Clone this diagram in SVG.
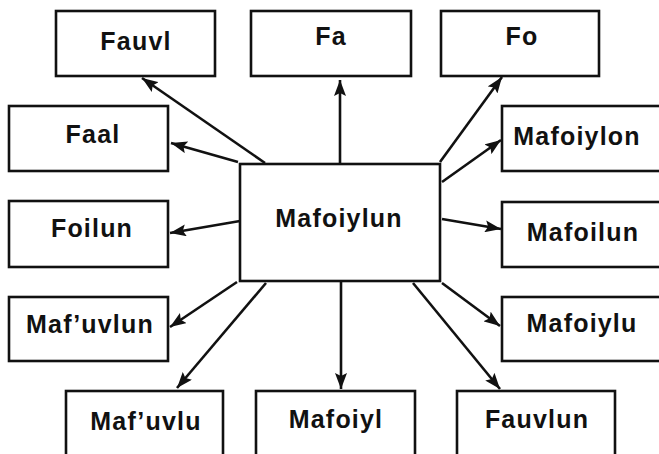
<svg xmlns="http://www.w3.org/2000/svg" width="659" height="454" viewBox="0 0 659 454">
<style>
.box{fill:#fff;stroke:#111;stroke-width:2.6}
.lbl{font-family:"Liberation Sans",Arial,sans-serif;font-weight:bold;font-size:25px;letter-spacing:1.2px;fill:#111;text-anchor:middle}
.edge{stroke:#111;stroke-width:2.6;fill:none;marker-end:url(#ah)}
</style>
<defs>
<marker id="ah" markerUnits="userSpaceOnUse" markerWidth="17" markerHeight="12" refX="16" refY="6" orient="auto">
<path d="M0,0 L16,6 L0,12 L3,6 z" fill="#111"/>
</marker>
</defs>
<rect width="659" height="454" fill="#fff"/>
<g id="connectors">
<line class="edge" x1="265" y1="163" x2="142" y2="78"/>
<line class="edge" x1="340" y1="164" x2="340" y2="80"/>
<line class="edge" x1="440" y1="162" x2="502" y2="77"/>
<line class="edge" x1="238" y1="162" x2="171" y2="143"/>
<line class="edge" x1="442" y1="182" x2="501" y2="140"/>
<line class="edge" x1="240" y1="221" x2="170" y2="233"/>
<line class="edge" x1="442" y1="219" x2="501" y2="229"/>
<line class="edge" x1="237" y1="282" x2="170" y2="327"/>
<line class="edge" x1="442" y1="283" x2="500" y2="326"/>
<line class="edge" x1="266" y1="283" x2="177" y2="388"/>
<line class="edge" x1="341" y1="281" x2="341" y2="389"/>
<line class="edge" x1="413" y1="283" x2="500" y2="389"/>
</g>
<g id="center"><rect class="box" x="240" y="164" width="200" height="117"/><text class="lbl" x="339" y="227">Mafoiylun</text></g>
<g id="fauvl"><rect class="box" x="56" y="11" width="159" height="65"/><text class="lbl" x="136" y="50">Fauvl</text></g>
<g id="fa"><rect class="box" x="251" y="11" width="160" height="65"/><text class="lbl" x="331" y="45">Fa</text></g>
<g id="fo"><rect class="box" x="441" y="11" width="158" height="65"/><text class="lbl" x="522" y="45">Fo</text></g>
<g id="faal"><rect class="box" x="9" y="106" width="159" height="65"/><text class="lbl" x="93" y="143">Faal</text></g>
<g id="foilun"><rect class="box" x="9" y="201" width="159" height="66"/><text class="lbl" x="92" y="237">Foilun</text></g>
<g id="mafuvlun"><rect class="box" x="9" y="297" width="159" height="64"/><text class="lbl" x="90" y="333">Maf’uvlun</text></g>
<g id="mafoiylon"><rect class="box" x="502" y="106" width="170" height="65"/><text class="lbl" x="577" y="145">Mafoiylon</text></g>
<g id="mafoilun"><rect class="box" x="502" y="202" width="170" height="65"/><text class="lbl" x="583" y="241">Mafoilun</text></g>
<g id="mafoiylu"><rect class="box" x="502" y="297" width="170" height="64"/><text class="lbl" x="582" y="332">Mafoiylu</text></g>
<g id="mafuvlu"><rect class="box" x="66" y="391" width="157" height="75"/><text class="lbl" x="146" y="430">Maf’uvlu</text></g>
<g id="mafoiyl"><rect class="box" x="256" y="391" width="159" height="75"/><text class="lbl" x="336" y="428">Mafoiyl</text></g>
<g id="fauvlun"><rect class="box" x="457" y="391" width="158" height="75"/><text class="lbl" x="537" y="428">Fauvlun</text></g>
</svg>
